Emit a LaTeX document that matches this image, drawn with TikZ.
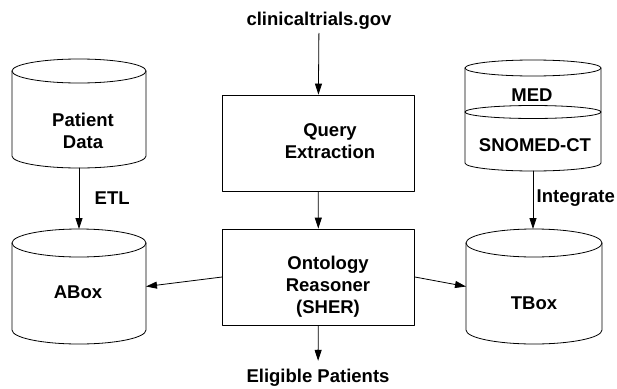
\documentclass[tikz,border=0pt]{standalone}
\usepackage{fontspec}
\setmainfont{Liberation Sans}
\usetikzlibrary{arrows.meta}

% store: name, cx, cy, half width, half height, ellipse y radius
\newcommand{\drawstore}[6]{%
  \coordinate (#1) at (#2,#3);
  \coordinate (#1-top) at (#2,#3-#5);
  \coordinate (#1-bot) at (#2,#3+#5);
  \coordinate (#1-west) at (#2-#4,#3);
  \coordinate (#1-east) at (#2+#4,#3);
  \draw [store] (#2-#4,#3-#5+#6) -- (#2-#4,#3+#5-#6)
    arc [start angle=180, end angle=0, x radius=#4, y radius=#6]
    -- (#2+#4,#3-#5+#6);
  \draw [store] (#2,#3-#5+#6) ellipse [x radius=#4, y radius=#6];
}

\begin{document}
\begin{tikzpicture}[
  x=1pt, y=-1pt,
  line cap=round,
  line join=round,
  >={Triangle[length=11pt,width=7pt]},
  every node/.style={font=\bfseries\fontsize{18.5}{22}\selectfont, align=center},
  store/.style={line width=0.8pt},
  procbox/.style={draw, line width=0.8pt, minimum width=192pt, minimum height=96pt},
  flow/.style={->, line width=0.8pt}
]
\useasboundingbox (0,0) rectangle (617,388);

% stores
\drawstore{pdata}{79}{113.5}{67}{54.5}{12}
\drawstore{abox}{79}{286.5}{67}{57.5}{14}
\drawstore{tbox}{534}{286.5}{68}{57.5}{14}
\drawstore{medcyl}{533}{115.5}{68}{55.5}{8}
\draw [store] (533,112) ellipse [x radius=68, y radius=6.5];

\node (pdatatxt) at (83,131) {Patient\\Data};
\node (aboxtxt) at (78,292) {ABox};
\node (tboxtxt) at (534,303) {TBox};
\node (medtxt) at (532,95) {MED};
\node (snotxt) at (535,145) {SNOMED-CT};

% processing
\node [procbox] (query) at (318,143) {};
\node [procbox] (reas) at (318.5,277) {};
\node (querytxt) at (330,141.5) {Query\\Extraction};
\node (reastxt) at (328,287) {Ontology\\Reasoner\\(SHER)};

\node (ctg) at (319,21) {clinicaltrials.gov};
\node (elig) at (318,378) {Eligible Patients};

% connectors
\draw [flow] (ctg) -- (query);
\draw [flow] (query) -- (reas);
\draw [flow, shorten >=5pt] (reas) -- (elig);
\draw [flow] (reas.west) -- (abox-east);
\draw [flow] (reas.east) -- (tbox-west);
\draw [flow] (pdata-bot) -- (abox-top) node [midway, right, xshift=12pt] {ETL};
\draw [flow] (medcyl-bot) -- (medcyl-bot |- tbox-top)
  node [midway, right, xshift=0pt, yshift=2pt] {Integrate};

\end{tikzpicture}
\end{document}
